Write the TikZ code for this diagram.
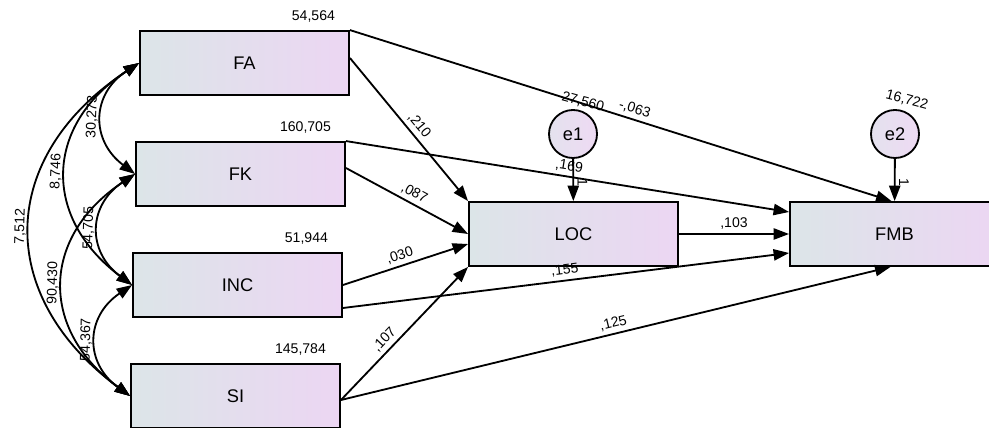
\documentclass[tikz,border=0pt]{standalone}
\usepackage{fontspec}
\setmainfont{Liberation Sans}
\usepackage{xcolor}
\usetikzlibrary{arrows.meta,positioning}
\definecolor{boxleft}{HTML}{DCE5E8}
\definecolor{boxright}{HTML}{ECD6F3}
\definecolor{errleft}{HTML}{E4E2EE}
\definecolor{errright}{HTML}{EEDAF3}

\begin{document}
\begin{tikzpicture}[x=0.025cm, y=0.025cm,
    >={Triangle[length=11pt,width=8pt]},
    var/.style={draw, line width=1.3pt, minimum width=5.225cm, minimum height=1.6cm,
        left color=boxleft, right color=boxright, font=\fontsize{13}{15}\selectfont},
    err/.style={circle, draw, line width=1.3pt, minimum size=1.2cm, inner sep=0pt,
        left color=errleft, right color=errright, font=\fontsize{13}{15}\selectfont},
    est/.style={font=\fontsize{10}{12}\selectfont, inner sep=2.5pt},
    path/.style={->, line width=1.3pt},
    cov/.style={<->, line width=1.3pt, bend left=55, looseness=1.3}]
    \useasboundingbox (0,0) rectangle (989,428);

    % Observed exogenous variables
    \node[var] (FA)  at (244.5,365) {FA};
    \node[var] (FK)  at (240.5,254) {FK};
    \node[var] (INC) at (237.5,143) {INC};
    \node[var] (SI)  at (235.5,32)  {SI};

    % Endogenous variables and errors
    \node[var] (LOC) at (573.5,194) {LOC};
    \node[var] (FMB) at (894.5,194) {FMB};
    \node[err] (e1) at (573,294) {e1};
    \node[err] (e2) at (895,294) {e2};

    % Variances
    \node[est, anchor=south east] (faVar)  at ([shift={(-8pt,3pt)}]FA.north east)  {54,564};
    \node[est, anchor=south east] (fkVar)  at ([shift={(-8pt,3pt)}]FK.north east)  {160,705};
    \node[est, anchor=south east] (incVar) at ([shift={(-8pt,3pt)}]INC.north east) {51,944};
    \node[est, anchor=south east] (siVar)  at ([shift={(-8pt,3pt)}]SI.north east)  {145,784};
    \node[est, rotate=-15] (e1Var) at ([shift={(10,32)}]e1.center) {27,560};
    \node[est, rotate=-15] (e2Var) at ([shift={(12,34)}]e2.center) {16,722};

    % Covariances
    \draw[cov] (FK.west)  to node[est, sloped, above] {30,273} (FA.west);
    \draw[cov] (INC.west) to node[est, sloped, above] {8,746}  (FA.west);
    \draw[cov] (SI.west)  to node[est, sloped, above] {7,512}  (FA.west);
    \draw[cov] (INC.west) to node[est, sloped, above] {54,705} (FK.west);
    \draw[cov] (SI.west)  to node[est, sloped, above] {90,430} (FK.west);
    \draw[cov] (SI.west)  to node[est, sloped, above] {54,367} (INC.west);

    % Paths to LOC
    \draw[path] ([shift={(0,5)}]FA.east) -- node[est, sloped, above, pos=0.52] {,210} (LOC.north west);
    \draw[path] ([shift={(0,6)}]FK.east) -- node[est, sloped, above, pos=0.52] {,087} (LOC.west);
    \draw[path] (INC.east) -- node[est, sloped, above, pos=0.48] {,030} ([shift={(0,-10)}]LOC.west);
    \draw[path] ([shift={(0,-4)}]SI.east) -- node[est, sloped, above, pos=0.4] {,107} (LOC.south west);
    \draw[path] (e1) -- node[est, pos=0.55, anchor=south, rotate=-90] {1} (LOC);

    % Paths to FMB
    \draw[path] (FA.north east) -- node[est, sloped, above, pos=0.52] {-,063} ([shift={(-3,0)}]FMB.north);
    \draw[path] (FK.north east) -- node[est, sloped, above, pos=0.5] {,169} ([shift={(0,22)}]FMB.west);
    \draw[path] (LOC.east) -- node[est, above] {,103} (FMB.west);
    \draw[path] ([shift={(0,-23)}]INC.east) -- node[est, sloped, above, pos=0.5] {,155} ([shift={(0,-19)}]FMB.west);
    \draw[path] ([shift={(0,-4)}]SI.east) -- node[est, sloped, above, pos=0.5] {,125} ([shift={(-4,0)}]FMB.south);
    \draw[path] (e2) -- node[est, pos=0.55, anchor=south, rotate=-90] {1} (FMB);

\end{tikzpicture}
\end{document}
